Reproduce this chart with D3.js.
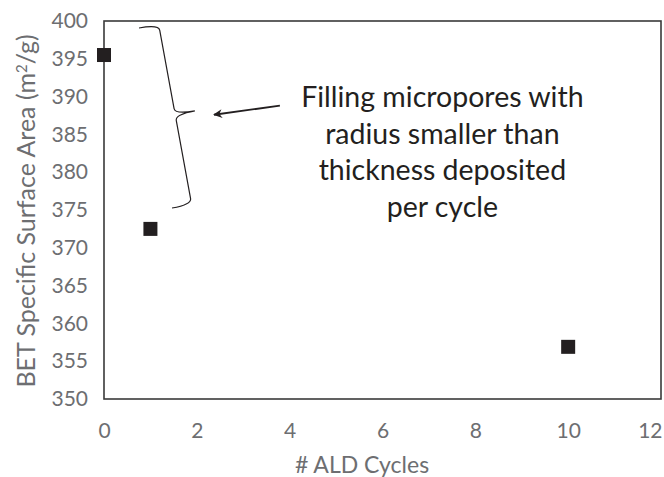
<!DOCTYPE html>
<html lang="en">
  <head>
    <meta charset="utf-8" />
    <title>BET Surface Area vs ALD Cycles</title>
    <script src="https://d3js.org/d3.v7.min.js" charset="utf-8"></script>
    <style>
      body { margin: 0; background: #fff; }
      text { font-family: Lato, "Open Sans", sans-serif; }
    </style>
  </head>
  <body>
    <div id="chart"></div>
    <script type="text/javascript">
      // data
      const cycles = [0, 1, 10];
      const surfaceArea = [395.5, 372.5, 356.9];
      const xTicks = [0, 2, 4, 6, 8, 10, 12];
      const yTicks = [350, 355, 360, 365, 370, 375, 380, 385, 390, 395, 400];
      const noteLines = [
        "Filling micropores with",
        "radius smaller than",
        "thickness deposited",
        "per cycle",
      ];
      // annotation anchors, in data units
      const noteAnchor = [7.29, 388.6];
      const arrowFrom = [3.79, 388.8];
      const arrowTo = [2.37, 387.6];
      const braceTop = [0.754, 399.07];
      const braceBottom = [1.465, 375.26];

      const cW = 664,
        cH = 477,
        cLeft = 104,
        cRight = 661,
        cTop = 21,
        cBottom = 399,
        tickGrey = "#6d6e71",
        ink = "#231f20";

      const svg = d3
        .select("#chart")
        .append("svg")
        .attr("width", cW)
        .attr("height", cH);

      const xScale = d3.scaleLinear().domain([0, 12]).range([cLeft, cRight]);
      const yScale = d3.scaleLinear().domain([350, 400]).range([cBottom, cTop]);

      //axes
      const xAxis = svg
        .append("g")
        .attr("transform", `translate(0,${cBottom})`)
        .call(d3.axisBottom(xScale).tickValues(xTicks).tickSize(0).tickPadding(24));
      const yAxis = svg
        .append("g")
        .attr("transform", `translate(${cLeft},0)`)
        .call(d3.axisLeft(yScale).tickValues(yTicks).tickSize(0).tickPadding(16));
      [xAxis, yAxis].forEach((g) => {
        g.select(".domain").remove();
        g.selectAll("text")
          .attr("fill", tickGrey)
          .style("font-size", "21px")
          .style("font-family", "Lato, sans-serif");
      });
      // last x label is pushed inside the picture, as in the reference
      xAxis
        .selectAll(".tick text")
        .filter((d) => d === 12)
        .attr("text-anchor", "end")
        .attr("x", 1);

      //plot border
      svg
        .append("rect")
        .attr("x", cLeft)
        .attr("y", cTop)
        .attr("width", cRight - cLeft)
        .attr("height", cBottom - cTop)
        .attr("fill", "none")
        .attr("stroke", "#3a3a3a")
        .attr("stroke-width", 1.6);

      //axis titles
      svg
        .append("text")
        .attr("x", 362)
        .attr("y", 473)
        .attr("text-anchor", "middle")
        .attr("fill", tickGrey)
        .style("font-size", "23px")
        .text("# ALD Cycles");
      svg
        .append("text")
        .attr("transform", `translate(35,211) rotate(-90)`)
        .attr("text-anchor", "middle")
        .attr("fill", tickGrey)
        .style("font-size", "25px")
        .html("BET Specific Surface Area (m<tspan dy='-8' style='font-size:15px'>2</tspan><tspan dy='8'>/g)</tspan>");

      //points
      const size = 14;
      svg
        .selectAll("rect.dot")
        .data(cycles)
        .enter()
        .append("rect")
        .attr("class", "dot")
        .attr("x", (d) => xScale(d) - size / 2)
        .attr("y", (d, i) => yScale(surfaceArea[i]) - size / 2)
        .attr("width", size)
        .attr("height", size)
        .attr("fill", ink);

      //brace
      const p1 = [xScale(braceTop[0]), yScale(braceTop[1])];
      const p2 = [xScale(braceBottom[0]), yScale(braceBottom[1])];
      const L = Math.hypot(p2[0] - p1[0], p2[1] - p1[1]);
      const ang = (Math.atan2(p2[1] - p1[1], p2[0] - p1[0]) * 180) / Math.PI - 90;
      const w = 20,
        q = 6;
      const bracePath = d3.path();
      bracePath.moveTo(0, 0);
      bracePath.quadraticCurveTo(w, 0, w, q);
      bracePath.lineTo(w, L / 2 - q);
      bracePath.quadraticCurveTo(w, L / 2, 2 * w, L / 2);
      bracePath.quadraticCurveTo(w, L / 2, w, L / 2 + q);
      bracePath.lineTo(w, L - q);
      bracePath.quadraticCurveTo(w, L, 0, L);
      svg
        .append("path")
        .attr("transform", `translate(${p1[0]},${p1[1]}) rotate(${ang})`)
        .attr("d", bracePath.toString())
        .attr("fill", "none")
        .attr("stroke", ink)
        .attr("stroke-width", 1.2);

      //arrow
      svg
        .append("defs")
        .append("marker")
        .attr("id", "head")
        .attr("viewBox", "0 0 10 10")
        .attr("refX", 9)
        .attr("refY", 5)
        .attr("markerWidth", 13)
        .attr("markerHeight", 9)
        .attr("markerUnits", "userSpaceOnUse")
        .attr("orient", "auto")
        .append("path")
        .attr("d", "M0,0 L10,5 L0,10 L3,5 Z")
        .attr("fill", ink);
      svg
        .append("line")
        .attr("x1", xScale(arrowFrom[0]))
        .attr("y1", yScale(arrowFrom[1]))
        .attr("x2", xScale(arrowTo[0]))
        .attr("y2", yScale(arrowTo[1]))
        .attr("stroke", ink)
        .attr("stroke-width", 1.8)
        .attr("marker-end", "url(#head)");

      //note text
      svg
        .append("g")
        .selectAll("text")
        .data(noteLines)
        .enter()
        .append("text")
        .attr("x", xScale(noteAnchor[0]))
        .attr("y", (d, i) => yScale(noteAnchor[1]) + i * 36.6)
        .attr("text-anchor", "middle")
        .attr("fill", ink)
        .style("font-size", "28.5px")
        .text((d) => d);
    </script>
  </body>
</html>
